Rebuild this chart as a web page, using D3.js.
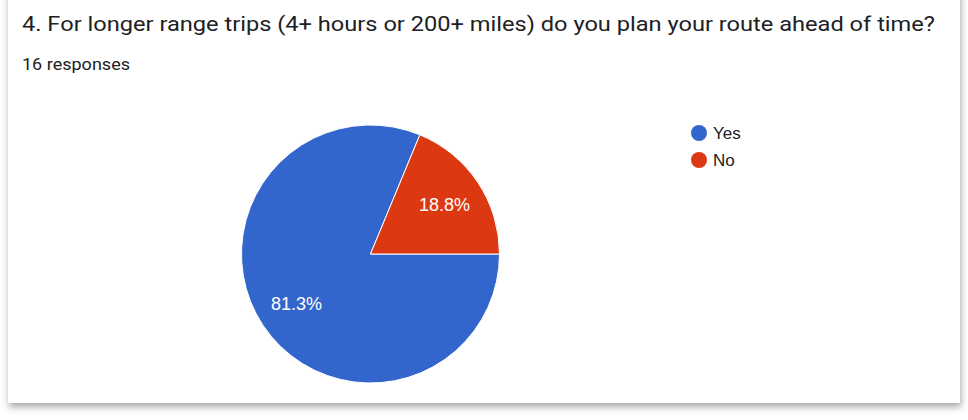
<!DOCTYPE html>
<html>
<head>
<meta charset="utf-8">
<script src="https://cdn.jsdelivr.net/npm/d3@7"></script>
<style>
  html, body { margin: 0; padding: 0; background: #fff; width: 968px; height: 420px; overflow: hidden; }
  #card { position: absolute; left: 8px; top: -12px; width: 952px; height: 415px; background: #fff;
          box-shadow: 1px 4px 7px rgba(0,0,0,0.35); }
  svg { position: absolute; left: 0; top: 0; }
</style>
</head>
<body>
<div id="card"></div>
<svg id="chart" width="968" height="420"></svg>
<script>
const title = "4. For longer range trips (4+ hours or 200+ miles) do you plan your route ahead of time?";
const subtitle = "16 responses";
const categories = ["Yes", "No"];
const values = [13, 3];
const labels = ["81.3%", "18.8%"];
const colors = ["#3366cc", "#dc3912"];

const svg = d3.select("#chart");

svg.append("text").attr("x", 22).attr("y", 30.5)
  .attr("font-family", "Roboto, Arial, sans-serif").attr("font-size", 20.5)
  .attr("textLength", 913).attr("lengthAdjust", "spacingAndGlyphs")
  .attr("fill", "#202124").text(title);
svg.append("text").attr("x", 22).attr("y", 70)
  .attr("font-family", "Roboto, Arial, sans-serif").attr("font-size", 16.5)
  .attr("textLength", 108).attr("lengthAdjust", "spacingAndGlyphs")
  .attr("fill", "#202124").text(subtitle);

const cx = 370.5, cy = 254, R = 129;
const pie = d3.pie().sort(null).startAngle(Math.PI / 2).endAngle(Math.PI / 2 + 2 * Math.PI);
const arcs = pie(values);
const arc = d3.arc().innerRadius(0).outerRadius(R);
const labelArc = d3.arc().innerRadius(89).outerRadius(89);

const g = svg.append("g").attr("transform", `translate(${cx},${cy})`);
g.selectAll("path").data(arcs).join("path")
  .attr("d", arc).attr("fill", (d, i) => colors[i])
  .attr("stroke", "#fff").attr("stroke-width", 1);
g.selectAll("text").data(arcs).join("text")
  .attr("transform", d => `translate(${labelArc.centroid(d)})`)
  .attr("text-anchor", "middle").attr("dy", "0.36em")
  .attr("font-family", "Arial, 'Liberation Sans', sans-serif").attr("font-size", 18)
  .attr("fill", "#fff").text((d, i) => labels[i]);

const legend = svg.append("g").attr("transform", "translate(699,133)");
const li = legend.selectAll("g").data(categories).join("g")
  .attr("transform", (d, i) => `translate(0,${i * 27})`);
li.append("circle").attr("r", 8).attr("fill", (d, i) => colors[i]);
li.append("text").attr("x", 14).attr("dy", "0.36em")
  .attr("font-family", "Arial, 'Liberation Sans', sans-serif").attr("font-size", 17)
  .attr("fill", "#222").text(d => d);
</script>
</body>
</html>
